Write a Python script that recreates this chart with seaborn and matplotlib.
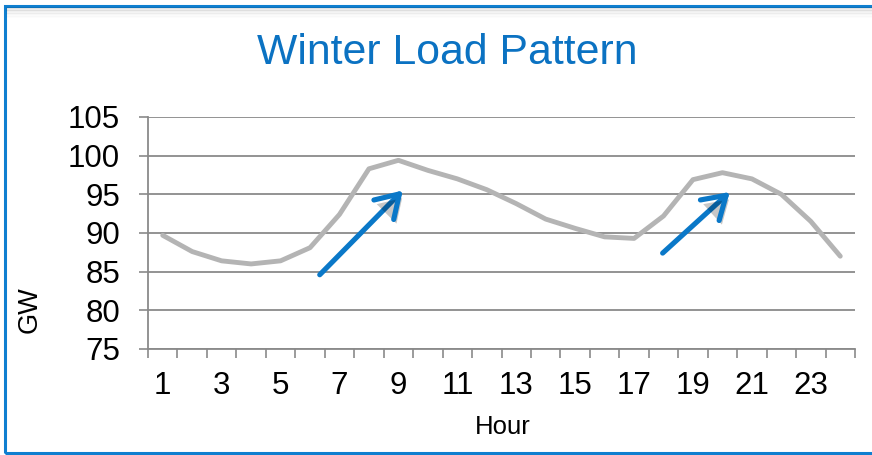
import matplotlib
matplotlib.use("Agg")
import matplotlib.pyplot as plt
import matplotlib.patheffects as pe
from matplotlib.patches import Rectangle
from matplotlib.lines import Line2D
import seaborn as sns
import pandas as pd

# ---- data ----
hours = list(range(1, 25))
load_gw = [89.7, 87.6, 86.4, 86.0, 86.4, 88.1, 92.4, 98.3, 99.4, 98.1, 97.0, 95.6,
           93.8, 91.8, 90.6, 89.5, 89.3, 92.2, 96.9, 97.8, 97.0, 95.0, 91.5, 87.0]
x_tick_labels = [str(h) for h in range(1, 24, 2)]
y_ticks = [75, 80, 85, 90, 95, 100, 105]
arrow1_start = (6.33, 84.6)
arrow1_end = (9.15, 95.5)
arrow2_start = (17.97, 87.4)
arrow2_end = (20.25, 95.3)
title = "Winter Load Pattern"

sns.set_theme(style="white")
plt.rcParams['font.family'] = ['Liberation Sans', 'DejaVu Sans']

W, H = 872, 455
fig = plt.figure(figsize=(W / 100, H / 100), dpi=100)
ax = fig.add_axes([148 / W, 1 - 349 / H, (855 - 148) / W, (349 - 117) / H])

df = pd.DataFrame({"Hour": hours, "GW": load_gw})
sns.lineplot(data=df, x="Hour", y="GW", ax=ax, color="#b4b4b4", linewidth=3.5)

ax.set_xlim(0.5, 24.5)
ax.set_ylim(75, 105)
ax.set_yticks(y_ticks)
ax.set_yticklabels([str(v) for v in y_ticks])
ax.set_xticks([h for h in range(1, 24, 2)])
ax.set_xticklabels(x_tick_labels)
ax.set_xticks([h + 0.5 for h in range(0, 25)], minor=True)

grid_c = "#8a8a8a"
ax.grid(axis="y", color=grid_c, linewidth=1.3)
ax.set_axisbelow(True)
for s in ["top", "right"]:
    ax.spines[s].set_visible(False)
for s in ["left", "bottom"]:
    ax.spines[s].set_color(grid_c)
    ax.spines[s].set_linewidth(1.3)

ax.tick_params(axis="y", which="major", direction="out", length=6.5, width=1.2,
               color=grid_c, pad=13.5, labelsize=22.5, labelcolor="black", left=True)
ax.tick_params(axis="x", which="major", length=0, pad=16, labelsize=22.5,
               labelcolor="black", bottom=True)
ax.tick_params(axis="x", which="minor", direction="out", length=6.5, width=1.2,
               color=grid_c, bottom=True)

ax.set_xlabel("")
ax.set_ylabel("")
fig.text(503 / W, 1 - 427 / H, "Hour", ha="center", va="center", fontsize=18.5, color="black")
fig.text(29.5 / W, 1 - 310 / H, "GW", ha="center", va="center", rotation=90, fontsize=19.5, color="black")

fig.text(447 / W, 1 - 64 / H, title, ha="center", va="baseline", fontsize=30.8, color="#0b72c2")

arrow_c = "#0a78c8"
for st, en in [(arrow1_start, arrow1_end), (arrow2_start, arrow2_end)]:
    ax.annotate("", xy=en, xytext=st,
                arrowprops=dict(arrowstyle="->,head_length=0.8,head_width=0.5",
                                color=arrow_c, lw=3.7, mutation_scale=20,
                                shrinkA=0, shrinkB=0,
                                path_effects=[pe.SimplePatchShadow(offset=(2, -3), shadow_rgbFace="#000000", alpha=0.22),
                                              pe.Normal()]))

# soft shadow under the top edge of the frame
for i, a in enumerate([0.12, 0.09, 0.07, 0.05, 0.035, 0.02, 0.01]):
    yy = 1 - (8 + i * 1.5) / H
    fig.add_artist(Line2D([7 / W, 1.0], [yy, yy], transform=fig.transFigure,
                          color=(0, 0, 0, a), linewidth=1.2))
fig.add_artist(Rectangle((5 / W, 2 / H), 1.1, 1 - 8 / H, transform=fig.transFigure,
                         fill=False, edgecolor="#0f7fd0", linewidth=2.2))

fig.savefig("out.png", dpi=100)
